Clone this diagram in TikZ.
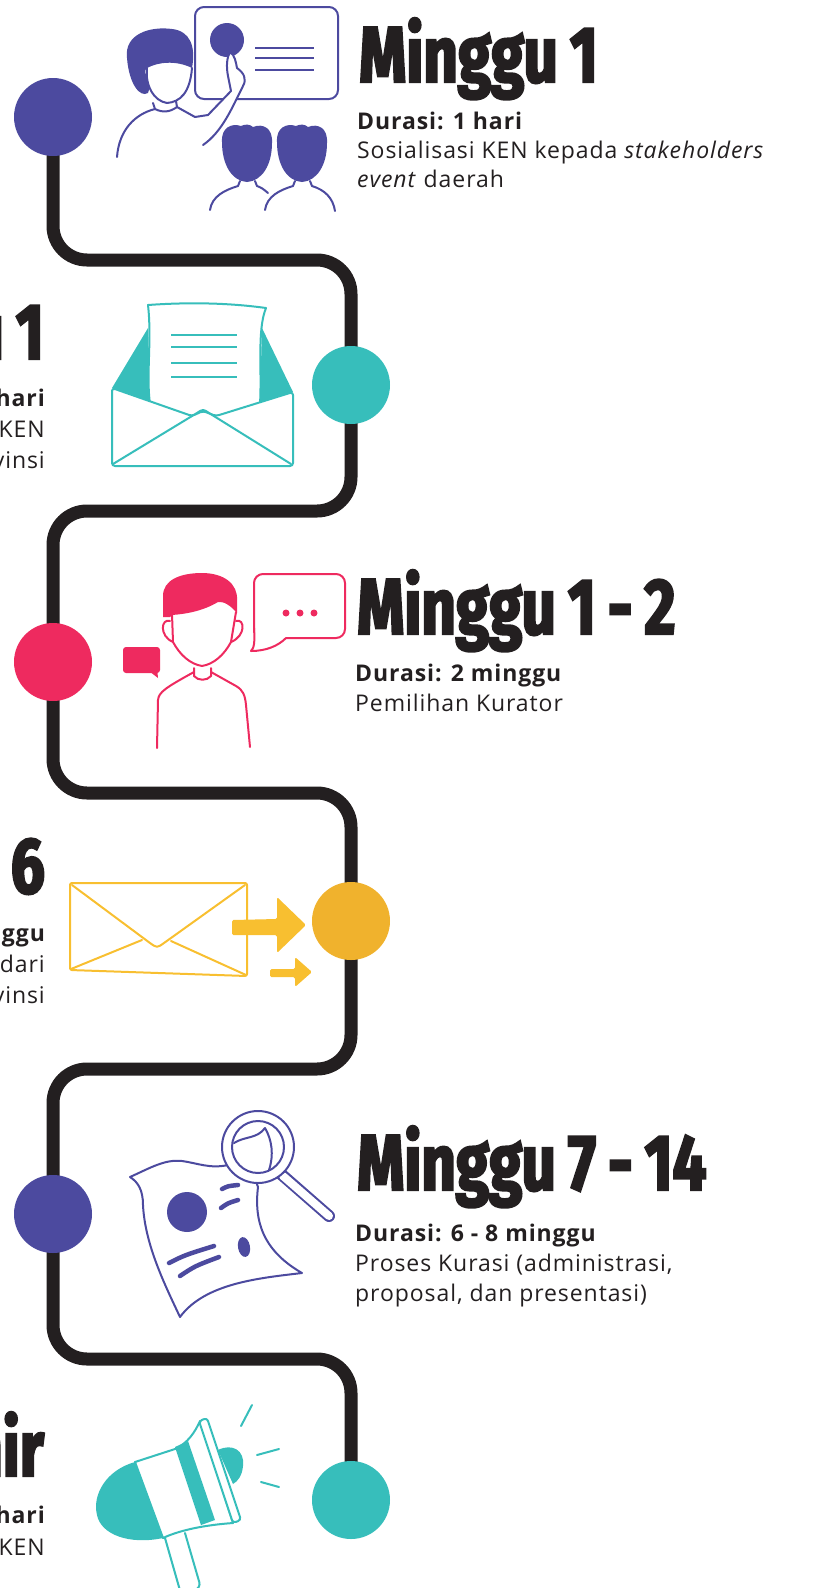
\documentclass[tikz,border=0pt]{standalone}
\usepackage{fontspec}
\setmainfont{Open Sans}[LetterSpace=4]
\newfontfamily\headfont{Fira Sans}[FakeStretch=0.76,FakeBold=3,WordSpace=0.85]
\usepackage{tikz}
\usetikzlibrary{backgrounds}

\definecolor{ungu}{HTML}{4C4A9F}
\definecolor{tosca}{HTML}{37BEBB}
\definecolor{merah}{HTML}{EE2A5F}
\definecolor{kuning}{HTML}{F0B22D}
\definecolor{kuningmuda}{HTML}{F8BF30}
\definecolor{hitam}{HTML}{231F20}

\begin{document}
\begin{tikzpicture}[x=1pt, y=-1pt,
  jalur/.style={draw=hitam, line width=13pt, rounded corners=34pt},
  titik/.style={circle, minimum size=78pt, inner sep=0pt},
  judul/.style={font=\headfont\bfseries\fontsize{79}{79}\selectfont, text=hitam, inner sep=0pt},
  isi/.style={font=\fontsize{23}{26}\selectfont, text=hitam, inner sep=0pt},
  garis/.style={line width=2pt, line cap=round, line join=round}]

\useasboundingbox (0,0) rectangle (815,1588);
\clip (0,0) rectangle (815,1588);

% --- titik tahapan ---
\node[titik, fill=ungu]  (c1) at (53,117)  {};
\node[titik, fill=tosca] (c2) at (351,385) {};
\node[titik, fill=merah] (c3) at (53,662)  {};
\node[titik, fill=kuning] (c4) at (351,921) {};
\node[titik, fill=ungu]  (c5) at (53,1214) {};
\node[titik, fill=tosca] (c6) at (351,1500) {};

% --- jalur berliku ---
\begin{pgfonlayer}{background}
\draw[jalur] (c1.center) -- (53,260) -- (351,260) -- (351,511) -- (53,511) -- (53,793)
  -- (351,793) -- (351,1069) -- (53,1069) -- (53,1359) -- (351,1359) -- (c6.center);
\end{pgfonlayer}

% --- teks tahapan ---
\node[judul, anchor=base west] (j1) at (359,82) {Minggu 1};
\node[isi, anchor=base west] (d1) at (357,129) {\textbf{Durasi: 1 hari}};
\node[isi, anchor=base west] (k1a) at (357,158) {Sosialisasi KEN kepada \textit{stakeholders}};
\node[isi, anchor=base west] (k1b) at (357,187) {\textit{event} daerah};

\node[judul, anchor=base east] (j2) at (44,359) {Minggu 1};
\node[isi, anchor=base east] (d2) at (46,406) {\textbf{hari}};
\node[isi, anchor=base east] (k2a) at (45,437) {KEN};
\node[isi, anchor=base east] (k2b) at (45,468) {provinsi};

\node[judul, anchor=base west] (j3) at (357,634) {Minggu 1 - 2};
\node[isi, anchor=base west] (d3) at (355,681) {\textbf{Durasi: 2 minggu}};
\node[isi, anchor=base west] (k3) at (355,711) {Pemilihan Kurator};

\node[judul, anchor=base east] (j4) at (45,893) {6};
\node[isi, anchor=base east] (d4) at (46,941) {\textbf{minggu}};
\node[isi, anchor=base east] (k4a) at (45,972) {dari};
\node[isi, anchor=base east] (k4b) at (45,1003) {provinsi};

\node[judul, anchor=base west] (j5) at (357,1190) {Minggu 7 - 14};
\node[isi, anchor=base west] (d5) at (355,1241) {\textbf{Durasi: 6 - 8 minggu}};
\node[isi, anchor=base west] (k5a) at (355,1271) {Proses Kurasi (administrasi,};
\node[isi, anchor=base west] (k5b) at (355,1301) {proposal, dan presentasi)};

\node[judul, anchor=base east] (j6) at (44,1476) {Akhir};
\node[isi, anchor=base east] (d6) at (46,1523) {\textbf{hari}};
\node[isi, anchor=base east] (k6) at (45,1555) {KEN};

% --- ikon sosialisasi ---
\begin{scope}[garis, draw=ungu, fill=ungu]
\draw[rounded corners=9pt] (195,7) rectangle (338,99);
\fill (227,40) circle (17);
\foreach \y in {48,58,70} \draw[line width=2.6pt, line cap=butt] (255,\y) -- (314,\y);
\fill (127,58) .. controls (124,34) and (150,26) .. (172,29) .. controls (190,31) and (196,46) .. (192,68)
  .. controls (176,60) and (158,62) .. (147,68) .. controls (141,72) and (153,84) .. (148,93)
  .. controls (140,98) and (129,84) .. (127,58) -- cycle;
\draw (147,68) .. controls (145,86) and (154,101) .. (167,103) .. controls (180,102) and (190,93) .. (192,68);
\draw (153,103) -- (155,109) .. controls (163,113) and (170,112) .. (177,107) -- (176,101);
\draw (117,157) .. controls (119,130) and (135,114) .. (155,109);
\draw (177,107) -- (195,117);
\draw[fill=white] (195,117) -- (208,115) -- (231,91) -- (228,76) .. controls (226,66) and (227,57) .. (230,52)
  .. controls (235,55) and (236,63) .. (237,68) .. controls (244,73) and (247,79) .. (243,86)
  .. controls (232,108) and (222,132) .. (203,145);
\foreach \dx in {0,55} {
  \fill[xshift=\dx] (222,142) .. controls (221,127) and (232,123) .. (241,126) .. controls (245,124) and (250,124) .. (253,127)
    .. controls (263,123) and (273,128) .. (272,143) .. controls (272,165) and (262,181) .. (247,182)
    .. controls (232,181) and (222,165) .. (222,142) -- cycle;
  \draw[xshift=\dx] (210,210) .. controls (212,196) and (225,190) .. (238,186) -- (240,181);
}
\draw (255,181) -- (257,186) .. controls (262,188) .. (268,193);
\draw (310,181) -- (312,186) .. controls (325,190) and (333,198) .. (335,211);
\end{scope}

% --- ikon surat undangan ---
\begin{scope}[garis, draw=tosca, fill=tosca]
\fill (112,388) -- (148,328) -- (150,402) -- cycle;
\fill (293,392) -- (262,328) -- (260,402) -- cycle;
\draw[fill=white] (150,404) .. controls (146,375) and (152,340) .. (148,305) .. controls (190,302) and (230,303) .. (266,308)
  .. controls (257,330) and (262,370) .. (260,404);
\foreach \y in {335,347,363,377} \draw[line width=2.6pt, line cap=butt] (171,\y) -- (237,\y);
\draw[fill=white, rounded corners=3pt] (112,388) -- (192,416) -- (203,411) -- (216,416) -- (293,392) -- (293,466) -- (112,466) -- cycle;
\draw (113,464) -- (197,413) .. controls (203,409) .. (209,413) -- (291,464);
\end{scope}

% --- ikon kurator ---
\begin{scope}[garis, draw=merah, fill=merah]
\draw[rounded corners=9pt] (286,638) -- (345,638) -- (345,574) -- (254,574) -- (254,632);
\draw (254,628) .. controls (255,643) and (254,648) .. (251,651) .. controls (266,651) and (278,646) .. (286,638);
\foreach \x in {286,300,314} \fill (\x,613) circle (3.5);
\fill[rounded corners=3pt] (123,647) rectangle (160,673);
\fill (149,671) -- (158,678) -- (157,668) -- cycle;
\fill (163,617) -- (163,596) .. controls (163,580) and (180,573) .. (202,573) .. controls (224,573) and (238,584) .. (237,600)
  -- (237,613) .. controls (231,606) and (224,601) .. (218,602) .. controls (203,611) and (186,614) .. (172,615) -- (170,617) -- cycle;
\draw (172,614) -- (173,642) .. controls (180,655) and (190,664) .. (202,666) .. controls (214,664) and (224,655) .. (231,642) -- (236,612);
\draw (170,621) .. controls (161,618) and (159,636) .. (173,642);
\draw (236,621) .. controls (245,618) and (246,636) .. (231,642);
\draw (194,668) -- (194,676) .. controls (198,681) and (207,681) .. (211,676) -- (211,668);
\draw (157,748) -- (158,700) .. controls (159,692) and (165,688) .. (194,672);
\draw (211,672) -- (236,686) .. controls (243,690) and (245,695) .. (246,705) -- (250,747);
\end{scope}

% --- ikon pengiriman berkas ---
\begin{scope}[garis, draw=kuningmuda, fill=kuningmuda]
\draw[rounded corners=2pt] (70,883) -- (247,883) -- (247,976) -- (70,970) -- cycle;
\draw (72,885) -- (150,943) .. controls (157,948) .. (164,943) -- (245,885);
\draw (71,969) -- (142,940);
\draw (246,975) -- (171,941);
\fill[rounded corners=1.5pt] (232,920) -- (277,919) -- (277,897) -- (306,925) -- (277,953) -- (277,935) -- (232,935) -- cycle;
\fill[rounded corners=1.5pt] (270,969) -- (295,969) -- (295,957) -- (312,972) -- (295,987) -- (295,977) -- (270,977) -- cycle;
\end{scope}

% --- ikon kurasi ---
\begin{scope}[garis, draw=ungu, fill=ungu]
\draw[fill=white] (130,1177) .. controls (150,1168) and (165,1159) .. (182,1161) .. controls (197,1163) and (210,1169) .. (228,1165)
  -- (250,1165) -- (258,1187) .. controls (254,1220) and (262,1250) .. (302,1273)
  .. controls (260,1278) and (205,1283) .. (180,1317) .. controls (165,1285) and (145,1245) .. (143,1205)
  .. controls (143,1190) and (138,1182) .. (130,1177) -- cycle;
\fill (187,1212) circle (20);
\draw[line width=4.5pt] (222,1189) .. controls (228,1186) .. (238,1185);
\draw[line width=4.5pt] (221,1208) .. controls (228,1203) .. (238,1200);
\draw[line width=4.5pt] (169,1263) .. controls (185,1255) .. (214,1246);
\draw[line width=4.5pt] (180,1276) .. controls (195,1266) .. (219,1257);
\fill[rotate around={10:(244,1247)}] (244,1247) ellipse (6 and 10);
\draw[line width=12pt] (281,1174) -- (329,1216);
\draw[line width=8pt, draw=white] (283,1176) -- (329,1216);
\draw[fill=white] (258,1147) circle (36);
\draw (258,1147) circle (26);
\draw (234,1143) .. controls (245,1136) and (257,1139) .. (265,1128) .. controls (272,1140) and (274,1155) .. (269,1170);
\end{scope}

% --- ikon pengumuman ---
\begin{scope}[garis, draw=tosca, fill=tosca]
\fill (135,1462) .. controls (106,1470) and (92,1495) .. (97,1515) .. controls (101,1535) and (130,1545) .. (163,1538) -- cycle;
\draw[fill=white, rounded corners=6pt] (165,1538) -- (181,1594) -- (201,1588) -- (185,1533);
\draw[fill=white] (135,1462) -- (175,1449) .. controls (188,1443) and (195,1432) .. (200,1421)
  -- (233,1523) .. controls (205,1525) and (180,1530) .. (163,1538) -- cycle;
\fill (175,1447) -- (188,1441) -- (215,1520) -- (201,1525) -- cycle;
\fill (218,1450) .. controls (232,1443) and (245,1450) .. (243,1466) .. controls (242,1476) and (238,1481) .. (233,1484) -- cycle;
\draw[fill=white, rounded corners=3pt] (199,1421) -- (207,1418) -- (241,1520) -- (233,1523) -- cycle;
\draw (241,1426) -- (252,1405);
\draw (257,1455) -- (279,1449);
\draw (261,1482) -- (279,1487);
\end{scope}
\end{tikzpicture}
\end{document}
